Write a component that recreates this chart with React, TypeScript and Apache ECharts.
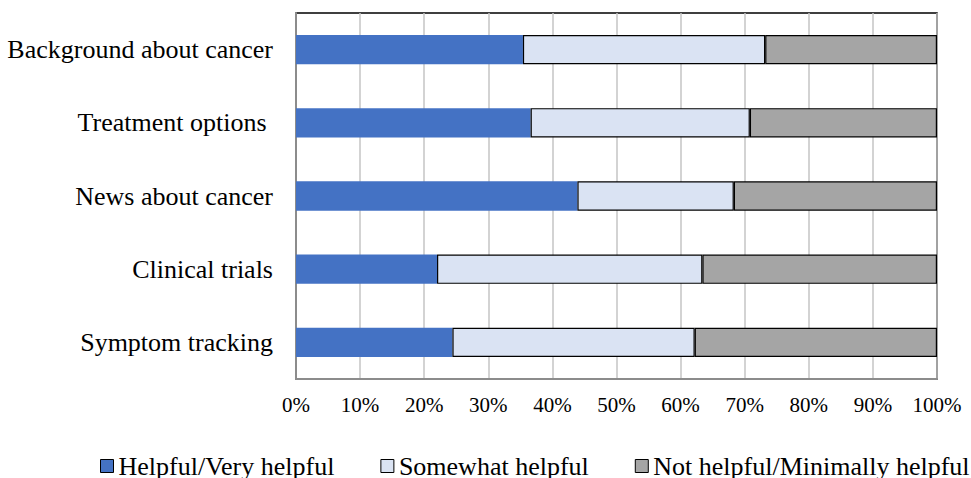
import React, { useEffect, useRef } from "react";
import * as echarts from "echarts";

const categories = [
  "Background about cancer",
  "Treatment options ",
  "News about cancer",
  "Clinical trials",
  "Symptom tracking",
];
const seriesNames = ["Helpful/Very helpful", "Somewhat helpful", "Not helpful/Minimally helpful"];
const helpful = [35.4, 36.6, 43.9, 22.0, 24.4];
const somewhat = [37.8, 34.2, 24.4, 41.4, 37.8];
const notHelpful = [26.8, 29.2, 31.7, 36.6, 37.8];
const colors = ["#4472C4", "#DAE3F3", "#A5A5A5"];

const FONT = "'Liberation Serif', 'Times New Roman', serif";

export default function App() {
  const ref = useRef<HTMLDivElement>(null);
  useEffect(() => {
    if (!ref.current) return;
    const chart = echarts.init(ref.current, null, { renderer: "svg" });
    const data = [helpful, somewhat, notHelpful];
    chart.setOption({
      animation: false,
      backgroundColor: "#fff",
      textStyle: { fontFamily: FONT },
      grid: {
        left: 296,
        right: 34,
        top: 13,
        bottom: 99,
        show: true,
        borderColor: "#000",
        borderWidth: 1.5,
        backgroundColor: "transparent",
      },
      legend: {
        data: seriesNames,
        top: 453,
        left: 100,
        padding: 0,
        itemWidth: 13,
        itemHeight: 13,
        itemGap: 46,
        icon: "rect",
        textStyle: { fontFamily: FONT, fontSize: 26, lineHeight: 26, color: "#000" },
        itemStyle: { borderColor: "#000", borderWidth: 1 },
      },
      xAxis: {
        type: "value",
        min: 0,
        max: 100,
        interval: 10,
        axisLine: { show: true, lineStyle: { color: "#8c8c8c", width: 2 } },
        axisTick: { show: false },
        splitLine: { show: true, lineStyle: { color: "#c4c4c4", width: 1.5 } },
        axisLabel: {
          formatter: "{value}%",
          fontFamily: FONT,
          fontSize: 21,
          color: "#000",
          margin: 15,
        },
      },
      yAxis: {
        type: "category",
        data: categories,
        inverse: true,
        axisLine: { show: true, lineStyle: { color: "#8c8c8c", width: 2 } },
        axisTick: { show: false },
        axisLabel: {
          fontFamily: FONT,
          fontSize: 26,
          color: "#000",
          margin: 23,
        },
      },
      series: seriesNames.map((name, i) => ({
        name,
        type: "bar",
        stack: "total",
        barWidth: "40%",
        data: data[i],
        itemStyle: {
          color: colors[i],
          borderColor: i === 0 ? colors[0] : "#000",
          borderWidth: i === 0 ? 0 : 1.2,
        },
      })),
    });
    return () => chart.dispose();
  }, []);
  return (
    <div
      ref={ref}
      style={{ position: "fixed", left: 0, top: 0, width: 971, height: 478 }}
    />
  );
}
